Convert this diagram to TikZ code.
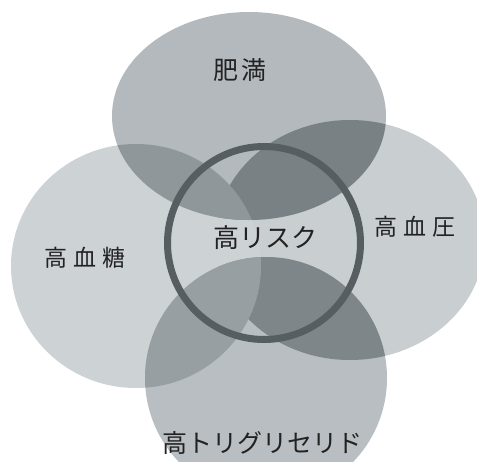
\documentclass[tikz,border=0pt]{standalone}
\usepackage{fontspec}
\newfontfamily\jp{Noto Sans CJK JP}
\newfontfamily\jpwide[LetterSpace=26]{Noto Sans CJK JP}
\newfontfamily\jpmid[LetterSpace=12]{Noto Sans CJK JP}
\definecolor{cL}{HTML}{CDD2D5}
\definecolor{cR}{HTML}{C9CED1}
\definecolor{cT}{HTML}{B3B9BC}
\definecolor{cB}{HTML}{B8BEC1}
\definecolor{cTL}{HTML}{90979A}
\definecolor{cTR}{HTML}{7A8185}
\definecolor{cBL}{HTML}{989FA2}
\definecolor{cBR}{HTML}{7F8689}
\definecolor{ringc}{HTML}{575E62}
\definecolor{txt}{HTML}{222222}
\tikzset{
  lbl/.style={text=txt, inner sep=0pt},
  ringline/.style={draw=ringc, line width=7pt}
}
\newcommand{\shapeT}{(249,116) ellipse [x radius=137pt, y radius=104pt]}
\newcommand{\shapeR}{(350,240) ellipse [x radius=135pt, y radius=120pt]}
\newcommand{\shapeL}{(136,266) ellipse [x radius=125pt, y radius=122pt]}
\newcommand{\shapeB}{(266,378) ellipse [x radius=121pt, y radius=121pt]}
\begin{document}
\begin{tikzpicture}[x=1pt, y=-1pt]
\useasboundingbox (0,0) rectangle (477,461);
\begin{scope}
\clip (0,0) rectangle (477,461);
% base fills
\fill[cR] \shapeR;
\fill[cL] \shapeL;
\fill[cT] \shapeT;
\fill[cB] \shapeB;
% overlaps with top
\begin{scope}
  \clip \shapeT;
  \fill[cTR] \shapeR;
  \fill[cTL] \shapeL;
\end{scope}
% overlaps with bottom
\begin{scope}
  \clip \shapeB;
  \fill[cBR] \shapeR;
  \fill[cBL] \shapeL;
\end{scope}
% ring
\node[circle, ringline, minimum size=193pt, inner sep=0pt] (ring) at (264,243) {};
\end{scope}
% labels
\node[lbl, font=\jpmid\fontsize{25pt}{30pt}\selectfont] (obesity) at (240,70) {肥満};
\node[lbl, font=\jp\fontsize{26pt}{31pt}\selectfont] (risk) at (265,238) {高リスク};
\node[lbl, font=\jpwide\fontsize{23pt}{28pt}\selectfont] (bp) at (415,227) {高血圧};
\node[lbl, font=\jpwide\fontsize{23pt}{28pt}\selectfont] (sugar) at (85,258) {高血糖};
\node[lbl, font=\jp\fontsize{25pt}{30pt}\selectfont] (tg) at (262,443) {高トリグリセリド};
\end{tikzpicture}
\end{document}
